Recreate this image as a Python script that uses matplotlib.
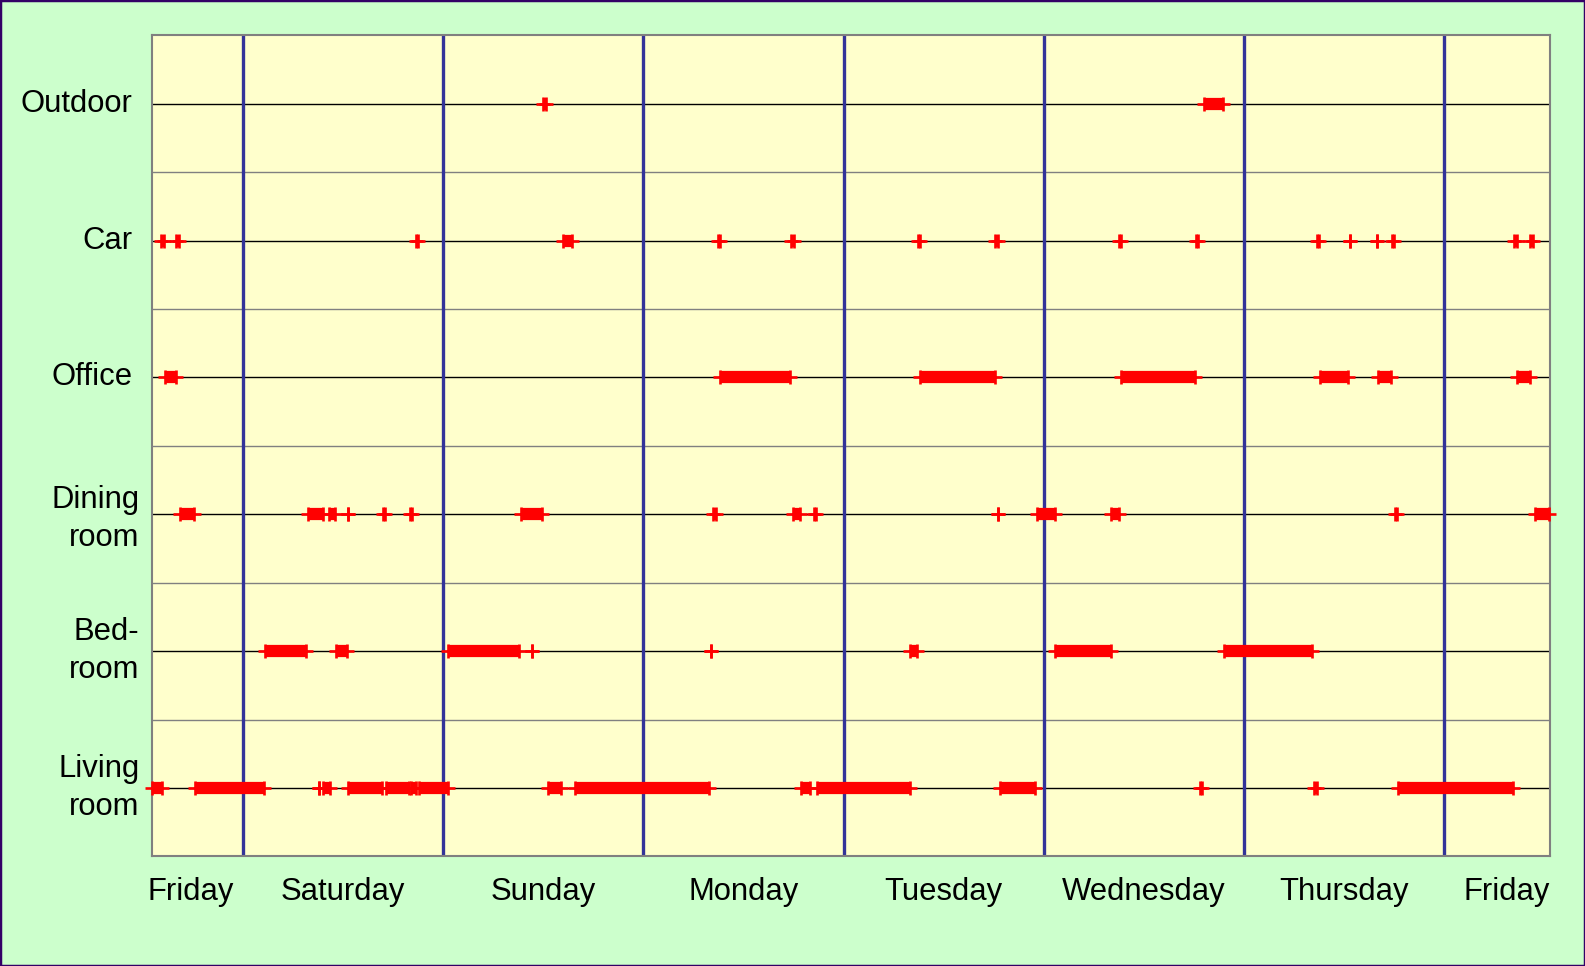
import matplotlib.pyplot as plt
from matplotlib.patches import Rectangle

plt.rcParams['font.family'] = ['Liberation Sans', 'DejaVu Sans']

# rooms from top to bottom
rooms = ["Outdoor", "Car", "Office", "Dining\nroom", "Bed-\nroom", "Living\nroom"]
days = ["Friday", "Saturday", "Sunday", "Monday", "Tuesday", "Wednesday", "Thursday", "Friday"]

# presence intervals (start, end) in hours since Friday 00:00
outdoor = [(60.0, 60.3), (139.2, 141.5)]
car = [(14.2, 14.5), (16.0, 16.3), (44.7, 45.0), (62.4, 63.4), (80.9, 81.2),
       (89.7, 90.0), (104.9, 105.2), (114.2, 114.5), (129.0, 129.3), (138.2, 138.5),
       (152.7, 153.0), (156.7, 156.7), (159.9, 159.9), (161.7, 162.0),
       (176.4, 176.7), (178.3, 178.6)]
office = [(14.7, 16.0), (81.2, 89.6), (105.2, 114.1), (129.2, 138.1),
          (153.1, 156.5), (160.1, 161.6), (176.7, 178.3)]
dining = [(16.4, 18.1), (31.8, 33.6), (34.3, 35.0), (36.6, 36.6), (40.8, 41.0),
          (44.0, 44.3), (57.3, 59.9), (80.4, 80.7), (89.9, 90.8), (92.4, 92.7),
          (114.5, 114.5), (119.2, 121.3), (128.0, 129.0), (162.1, 162.4),
          (178.9, 180.6)]
bedroom = [(26.7, 31.6), (35.2, 36.5), (48.6, 57.1), (58.7, 58.7), (80.1, 80.1),
           (104.0, 104.8), (121.3, 128.0), (141.6, 152.2)]
living = [(13.1, 14.3), (18.2, 26.5), (33.1, 33.1), (33.6, 34.4), (36.6, 40.7),
          (41.1, 43.9), (44.2, 44.7), (45.1, 48.6), (60.6, 62.1), (63.8, 79.9),
          (90.9, 92.0), (92.8, 104.0), (114.8, 118.9), (138.7, 139.0),
          (152.4, 152.7), (162.5, 176.2)]

all_rooms = [outdoor, car, office, dining, bedroom, living]

x_min, x_max = 13.1, 180.7

fig = plt.figure(figsize=(15.85, 9.66), dpi=100, facecolor="#CCFFCC")
ax = fig.add_axes([0.0959, 0.1134, 0.8821, 0.85])
ax.set_facecolor("#FFFFCC")

n = len(rooms)
ax.set_xlim(x_min, x_max)
ax.set_ylim(-0.5, n - 0.5)

# horizontal lines: row centres and separators
for i in range(n):
    ax.axhline(i, color="black", lw=1, zorder=1)
for i in range(n - 1):
    ax.axhline(i + 0.5, color="#808080", lw=1, zorder=1)

# day boundaries
for d in range(1, len(days)):
    ax.axvline(24 * d, color="#333399", lw=2.4, zorder=2)

# presence marks
for i, intervals in enumerate(all_rooms):
    y = n - 1 - i
    for s, e in intervals:
        if e > s:
            ax.plot([s, e], [y, y], color="#FF0000", lw=8.8,
                    solid_capstyle="butt", zorder=3, clip_on=False)
        ax.plot([s, e], [y, y], "+", color="#FF0000", ms=9.5, mew=1.9,
                zorder=3, clip_on=False)

# room labels
ax.set_yticks([])
for i, name in enumerate(rooms):
    y = n - 1 - i
    if "\n" in name:
        if name.startswith("Dining"):
            y -= 0.035  # this one sits a little lower
        ax.text(-0.009, y, name, transform=ax.get_yaxis_transform(),
                fontsize=22.3, ha="right", va="center", multialignment="right",
                linespacing=1.35)
    else:
        ax.text(-0.014, y, name, transform=ax.get_yaxis_transform(),
                fontsize=22.3, ha="right", va="center")

# day labels at centre of visible portion of each day
centres = []
for d in range(len(days)):
    a = max(24 * d, x_min)
    b = min(24 * (d + 1), x_max)
    centres.append((a + b) / 2)
centres[0] -= 0.8
centres[-1] += 1.1
ax.set_xticks(centres)
ax.set_xticklabels(days, fontsize=22.3)
ax.tick_params(axis="x", length=0, pad=15)

for sp in ax.spines.values():
    sp.set_color("#808080")
    sp.set_linewidth(1.5)

# figure border
fig.patches.append(Rectangle((0, 0), 1, 1, transform=fig.transFigure,
                             fill=False, edgecolor="#330066", lw=2.5))

plt.savefig("out.png", dpi=100, facecolor=fig.get_facecolor())
